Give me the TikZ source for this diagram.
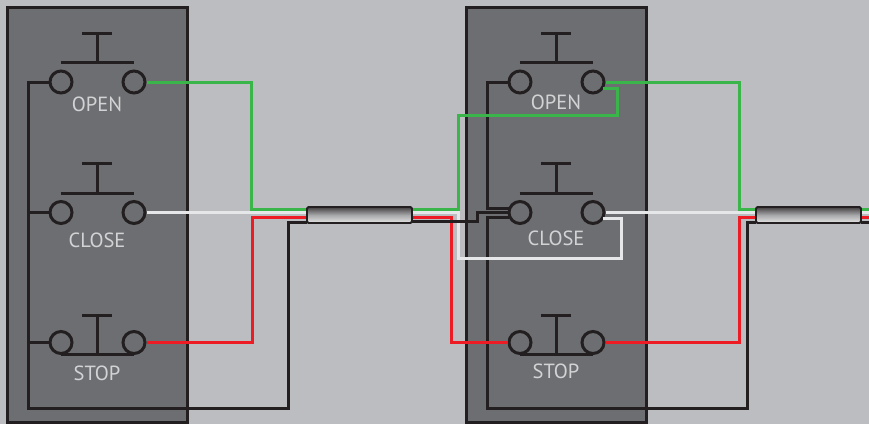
\documentclass[tikz,border=0pt]{standalone}
\usepackage{fontspec}
\setmainfont{PT Sans}
\definecolor{bgcolor}{RGB}{188,189,193}
\definecolor{panelcolor}{RGB}{109,110,113}
\definecolor{inkcolor}{RGB}{35,31,32}
\definecolor{labelcolor}{RGB}{209,211,212}
\definecolor{greenwire}{RGB}{57,181,74}
\definecolor{redwire}{RGB}{237,28,36}
\definecolor{whitewire}{RGB}{230,231,232}
\usetikzlibrary{calc, positioning}

\begin{document}
\begin{tikzpicture}[
    x=1pt, y=-1pt,
    panel/.style={draw=inkcolor, fill=panelcolor, line width=3.2pt},
    term/.style={circle, draw=inkcolor, line width=3pt, minimum size=22pt, inner sep=0pt},
    btn/.style={draw=inkcolor, line width=3pt},
    tag/.style={text=labelcolor, font=\fontsize{20.5}{20.5}\selectfont, inner sep=0pt},
    wire/.style={line width=3pt},
    cable/.style={draw=inkcolor, line width=1.8pt, rounded corners=1.5pt, top color=inkcolor!85!white, bottom color=white!90!black, middle color=panelcolor!60!white, minimum width=105pt, minimum height=16pt, inner sep=0pt}
]
    \useasboundingbox (0,0) rectangle (869,424);
    \fill[bgcolor] (0,0) rectangle (869,424);

    % panels
    \draw[panel] (7.5,7.5) rectangle (187.5,422.5);
    \draw[panel] (466.5,7.5) rectangle (646.5,422.5);

    % terminals
    \node[term] (openLa) at (61,82) {};
    \node[term] (openLb) at (134,82) {};
    \node[term] (closeLa) at (61,212.5) {};
    \node[term] (closeLb) at (134,212.5) {};
    \node[term] (stopLa) at (61,342.5) {};
    \node[term] (stopLb) at (134,342.5) {};
    \node[term] (openRa) at (520,82) {};
    \node[term] (openRb) at (593,82) {};
    \node[term] (closeRa) at (520,212.5) {};
    \node[term] (closeRb) at (593,212.5) {};
    \node[term] (stopRa) at (520,342.5) {};
    \node[term] (stopRb) at (593,342.5) {};

    % push buttons
    \foreach \x/\y in {97/62.5, 97/193, 556/62.5, 556/193} {
        \draw[btn] (\x-36.5,\y) -- (\x+36.5,\y);
        \draw[btn] (\x,\y) -- (\x,\y-29.5);
        \draw[btn] (\x-15,\y-29.5) -- (\x+15,\y-29.5);
    }
    \foreach \x in {97, 556} {
        \draw[btn] (\x-36.5,354) -- (\x+36.5,354);
        \draw[btn] (\x,354) -- (\x,315);
        \draw[btn] (\x-15,315) -- (\x+15,315);
    }

    % labels
    \node[tag] (openLtag) at (97,104) {OPEN};
    \node[tag] (closeLtag) at (97,240) {CLOSE};
    \node[tag] (stopLtag) at (97,373) {STOP};
    \node[tag] (openRtag) at (556,102) {OPEN};
    \node[tag] (closeRtag) at (556,238) {CLOSE};
    \node[tag] (stopRtag) at (556,371) {STOP};

    % black wires
    \draw[wire, inkcolor] (openLa.west) -- (28.5,82) -- (28.5,408) -- (288.5,408) -- (288.5,222) -- (307,222);
    \draw[wire, inkcolor] (closeLa.west) -- (28.5,212.5);
    \draw[wire, inkcolor] (stopLa.west) -- (28.5,342.5);
    \draw[wire, inkcolor] (openRa.west) -- (487.5,82) -- (487.5,208) -- (509,208);
    \draw[wire, inkcolor] (509,217) -- (487.5,217) -- (487.5,408) -- (747.5,408) -- (747.5,222) -- (756,222);
    \draw[wire, inkcolor] (861,222) -- (869,222);

    % green wires
    \draw[wire, greenwire] (openLb.east) -- (251,82) -- (251,209) -- (307,209);
    \draw[wire, greenwire] (412,209) -- (458,209) -- (458,115) -- (617,115) -- (617,88) -- (603,88);
    \draw[wire, greenwire] (openRb.east) -- (739,82) -- (739,209) -- (756,209);
    \draw[wire, greenwire] (861,209) -- (869,209);

    % white wires
    \draw[wire, whitewire] (closeLb.east) -- (307,212.5);
    \draw[wire, whitewire] (412,212.5) -- (458,212.5) -- (458,258) -- (621,258) -- (621,218) -- (603,218);
    \draw[wire, whitewire] (closeRb.east) -- (756,212.5);
    \draw[wire, whitewire] (861,212.5) -- (869,212.5);

    % red wires
    \draw[wire, redwire] (stopLb.east) -- (252,342.5) -- (252,217) -- (307,217);
    \draw[wire, redwire] (412,217) -- (451,217) -- (451,342.5) -- (stopRa.west);
    \draw[wire, redwire] (stopRb.east) -- (739,342.5) -- (739,217) -- (756,217);
    \draw[wire, redwire] (861,217) -- (869,217);

    % black wire over the others
    \draw[wire, inkcolor] (412,221) -- (477,221) -- (477,212.5) -- (closeRa.west);

    % cables
    \node[cable] (cableL) at (359.5,215) {};
    \node[cable] (cableR) at (808.5,215) {};
\end{tikzpicture}
\end{document}
